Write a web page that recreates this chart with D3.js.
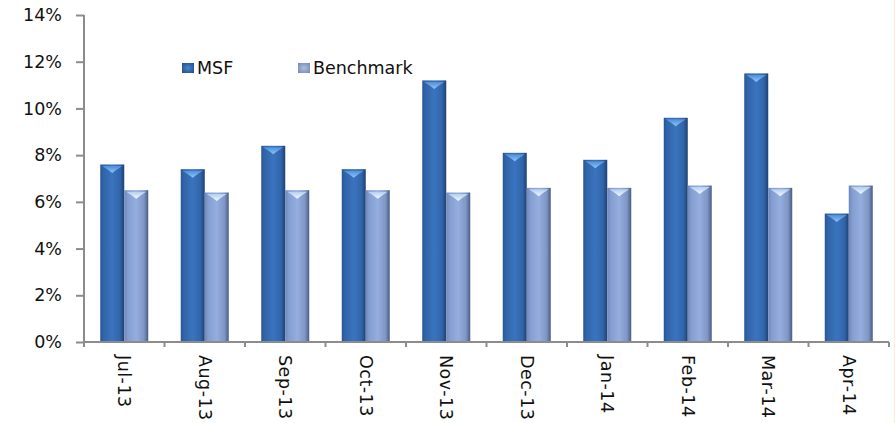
<!DOCTYPE html>
<html>
<head>
<meta charset="utf-8">
<script src="https://cdn.jsdelivr.net/npm/d3@7"></script>
<style>
  html, body { margin: 0; padding: 0; background: #fff; }
  svg { display: block; font-family: "DejaVu Sans", Verdana, sans-serif; }
</style>
</head>
<body>
<svg id="chart" width="895" height="423"></svg>
<script>
// Monthly returns: fund vs benchmark
const months = ["Jul-13", "Aug-13", "Sep-13", "Oct-13", "Nov-13", "Dec-13", "Jan-14", "Feb-14", "Mar-14", "Apr-14"];
const seriesNames = ["MSF", "Benchmark"];
const msf = [0.076, 0.074, 0.084, 0.074, 0.112, 0.081, 0.078, 0.096, 0.115, 0.055];
const benchmark = [0.065, 0.064, 0.065, 0.065, 0.064, 0.066, 0.066, 0.067, 0.066, 0.067];
const yTicks = [0, 0.02, 0.04, 0.06, 0.08, 0.10, 0.12, 0.14];

const rows = months.map((m, i) => ({ month: m, values: [
  { key: "MSF", value: msf[i] },
  { key: "Benchmark", value: benchmark[i] }
]}));

const svg = d3.select("#chart");
const plotLeft = 84, plotRight = 889, plotTop = 15, plotBottom = 342;

const x0 = d3.scaleBand().domain(months).range([plotLeft, plotRight]).padding(0);
const groupW = 48;
const x1 = d3.scaleBand().domain(seriesNames).range([0, groupW]).padding(0);
const y = d3.scaleLinear().domain([0, 0.14]).range([plotBottom, plotTop]);

// gradients giving the bars a rounded, cylindrical look
const defs = svg.append("defs");
const styles = {
  MSF: { stops: [[0, "#285693"], [0.12, "#3163a8"], [0.5, "#3a74be"], [0.82, "#3165ab"], [1, "#1f4170"]],
         cap: ["#8cc4f8", "#4f8fd8"], legend: ["#1f4a85", "#4a86cc"] },
  Benchmark: { stops: [[0, "#6f87ba"], [0.15, "#849ed1"], [0.5, "#94aedf"], [0.82, "#7f96c6"], [1, "#4b5c83"]],
         cap: ["#f0f9ff", "#b4cdf0"], legend: ["#7286b0", "#aebfe0"] }
};
seriesNames.forEach(k => {
  const g = defs.append("linearGradient").attr("id", "grad-" + k)
    .attr("x1", "0").attr("x2", "1").attr("y1", "0").attr("y2", "0");
  styles[k].stops.forEach(s => g.append("stop").attr("offset", s[0]).attr("stop-color", s[1]));
  const c = defs.append("linearGradient").attr("id", "cap-" + k)
    .attr("x1", "0").attr("x2", "0").attr("y1", "1").attr("y2", "0");
  c.append("stop").attr("offset", 0).attr("stop-color", styles[k].cap[0]);
  c.append("stop").attr("offset", 1).attr("stop-color", styles[k].cap[1]);
  const lg = defs.append("radialGradient").attr("id", "leg-" + k)
    .attr("cx", "0.5").attr("cy", "0.5").attr("r", "0.7");
  lg.append("stop").attr("offset", 0).attr("stop-color", styles[k].legend[1]);
  lg.append("stop").attr("offset", 1).attr("stop-color", styles[k].legend[0]);
});
// soft edge for the glints
defs.append("filter").attr("id", "soft").attr("x", "-20%").attr("y", "-50%")
  .attr("width", "140%").attr("height", "200%")
  .append("feGaussianBlur").attr("stdDeviation", 0.7);

// right-hand frame edge
svg.append("line").attr("x1", 894.5).attr("x2", 894.5).attr("y1", 0).attr("y2", 423)
  .attr("stroke", "#fbeed6").attr("stroke-width", 1);

// bars
const groups = svg.append("g").selectAll("g").data(rows).join("g")
  .attr("transform", d => `translate(${x0(d.month) + x0.bandwidth() / 2 - groupW / 2},0)`);

groups.selectAll("rect.bar").data(d => d.values).join("rect")
  .attr("class", "bar")
  .attr("x", d => x1(d.key))
  .attr("y", d => y(d.value))
  .attr("width", x1.bandwidth())
  .attr("height", d => y(0) - y(d.value))
  .attr("fill", d => `url(#grad-${d.key})`);

// top highlight caps (chevron-shaped glint)
groups.selectAll("path.cap").data(d => d.values).join("path")
  .attr("class", "cap")
  .attr("d", d => {
    const x = x1(d.key), w = x1.bandwidth(), t = y(d.value) + 1.5;
    return `M${x + 2},${t} L${x + w - 2},${t} Q${x + w * 0.68},${t + 3.5} ${x + w / 2},${t + 7} Q${x + w * 0.32},${t + 3.5} ${x + 2},${t} Z`;
  })
  .attr("fill", d => `url(#cap-${d.key})`)
  .attr("filter", "url(#soft)");

// axes
const axisColor = "#8c8c8c";
const yAxis = svg.append("g").attr("transform", `translate(${plotLeft},0)`)
  .call(d3.axisLeft(y).tickValues(yTicks).tickFormat(d3.format(".0%")).tickSize(8).tickPadding(14));
yAxis.select(".domain").attr("stroke", axisColor).attr("stroke-width", 2)
  .attr("d", `M0,${plotTop}V${plotBottom + 4}`);
yAxis.selectAll(".tick line").attr("stroke", axisColor).attr("stroke-width", 2);
yAxis.selectAll(".tick text").attr("font-size", "17.5px").attr("fill", "#111")
  .attr("font-family", "DejaVu Sans, Verdana, sans-serif");

const boundaries = months.map(m => x0(m)).concat([plotRight]);
const xAxis = svg.append("g");
xAxis.append("line").attr("x1", plotLeft).attr("x2", plotRight).attr("y1", plotBottom).attr("y2", plotBottom)
  .attr("stroke", axisColor).attr("stroke-width", 2);
xAxis.selectAll("line.tk").data(boundaries).join("line").attr("class", "tk")
  .attr("x1", d => d).attr("x2", d => d).attr("y1", plotBottom).attr("y2", plotBottom + 5)
  .attr("stroke", axisColor).attr("stroke-width", 2);
xAxis.selectAll("text").data(months).join("text")
  .attr("transform", d => `translate(${x0(d) + x0.bandwidth() / 2},355) rotate(90)`)
  .attr("dy", "0.35em")
  .attr("text-anchor", "start")
  .attr("font-size", "17.5px")
  .attr("letter-spacing", "0.5px")
  .attr("fill", "#111")
  .text(d => d);

// legend
const legendItems = [{ key: "MSF", x: 182 }, { key: "Benchmark", x: 298 }];
const legend = svg.append("g").selectAll("g").data(legendItems).join("g")
  .attr("transform", d => `translate(${d.x},63)`);
legend.append("rect").attr("width", 12).attr("height", 10)
  .attr("fill", d => `url(#leg-${d.key})`);
legend.append("text").attr("x", 15).attr("y", 11)
  .attr("font-size", "17.5px").attr("fill", "#111")
  .text(d => d.key);
</script>
</body>
</html>
